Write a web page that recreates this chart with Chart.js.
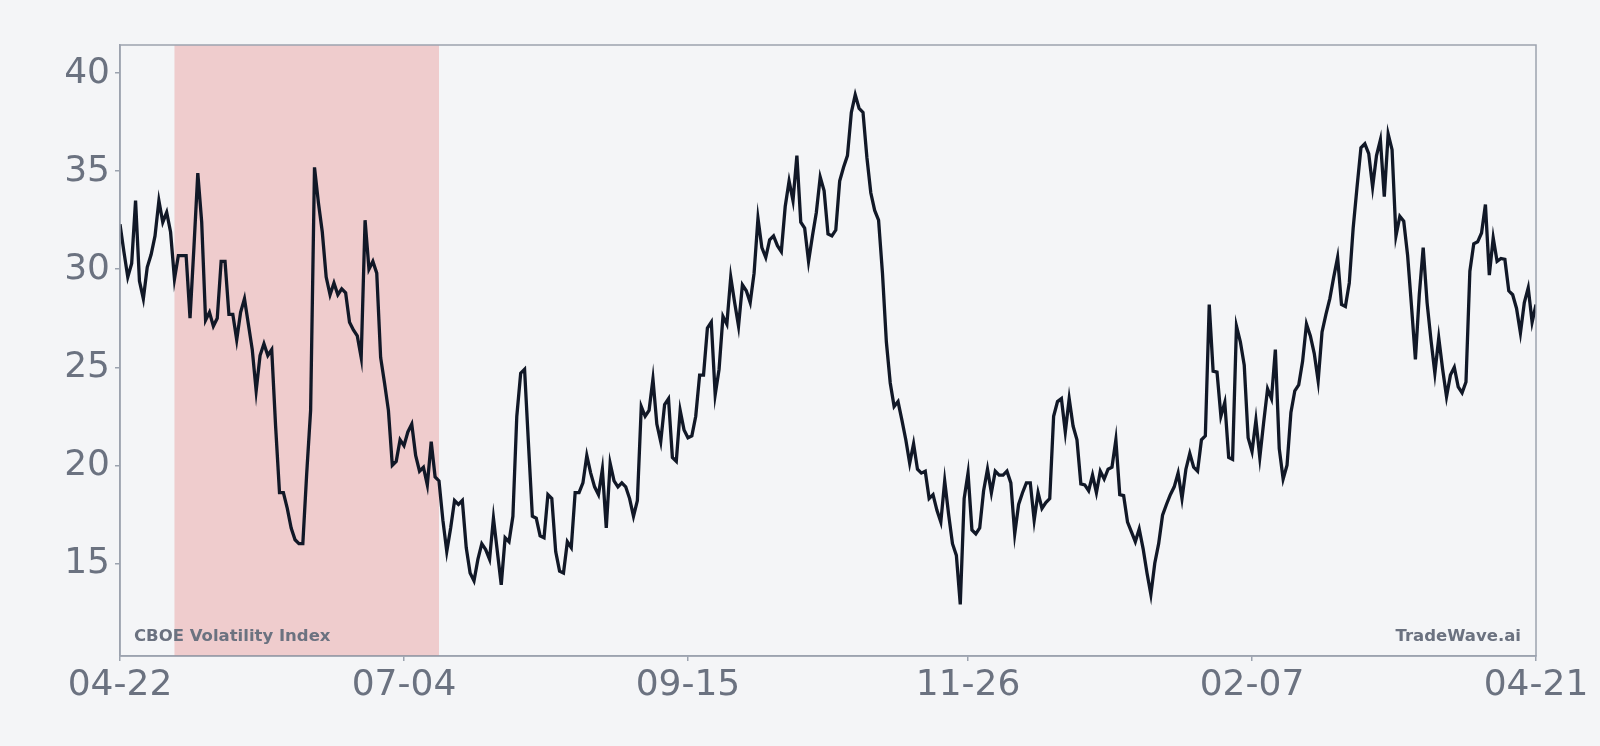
<!DOCTYPE html>
<html><head><meta charset="utf-8">
<script src="https://cdn.jsdelivr.net/npm/chart.js@4.4.0/dist/chart.umd.min.js"></script>
<style>html,body{margin:0;padding:0;background:#f4f5f7;}#wrap{width:1600px;height:746px;}</style>
</head><body><div id="wrap"><canvas id="c" width="1600" height="746"></canvas></div>
<script>
// Daily CBOE VIX closes, 04-22 .. 04-21 (365 calendar days)
const vixValues = [
 32.3,30.9,29.6,30.3,33.5,29.4,28.5,30.1,30.75,31.7,
 33.5,32.4,32.9,31.9,29.5,30.7,30.7,30.7,27.5,31.1,
 34.9,32.4,27.4,27.8,27.1,27.5,30.4,30.4,27.7,27.7,
 26.4,27.8,28.5,27.2,25.9,23.8,25.6,26.2,25.6,25.9,
 22.0,18.6,18.6,17.8,16.8,16.2,16.0,16.0,19.6,22.8,
 35.2,33.4,31.9,29.6,28.7,29.3,28.7,29.0,28.8,27.3,
 26.9,26.6,25.5,32.5,30.0,30.4,29.8,25.5,24.2,22.8,
 20.0,20.2,21.3,21.0,21.7,22.1,20.5,19.7,19.9,19.0,
 21.2,19.4,19.2,17.2,15.6,16.8,18.2,18.0,18.2,15.8,
 14.5,14.1,15.2,16.0,15.7,15.2,17.3,15.6,13.9,16.3,
 16.1,17.4,22.5,24.7,24.9,21.1,17.4,17.3,16.4,16.3,
 18.5,18.3,15.6,14.6,14.5,16.1,15.8,18.6,18.6,19.1,
 20.5,19.6,18.9,18.5,19.8,16.8,20.1,19.2,18.9,19.1,
 18.9,18.3,17.4,18.2,23.0,22.5,22.8,24.4,22.1,21.2,
 23.1,23.4,20.4,20.2,22.8,21.8,21.4,21.5,22.5,24.6,
 24.6,27.0,27.3,23.6,24.9,27.6,27.2,29.6,28.3,27.1,
 29.2,28.9,28.3,29.8,32.6,31.1,30.6,31.5,31.7,31.2,
 30.9,33.2,34.5,33.5,35.8,32.4,32.1,30.4,31.7,32.9,
 34.7,34.0,31.8,31.7,32.0,34.5,35.2,35.8,38.0,38.9,
 38.2,38.0,35.7,33.9,33.0,32.5,29.8,26.3,24.2,23.0,
 23.25,22.3,21.3,20.1,21.1,19.8,19.6,19.7,18.3,18.5,
 17.7,17.1,19.2,17.5,16.0,15.4,12.9,18.3,19.6,16.7,
 16.5,16.8,18.7,19.8,18.6,19.7,19.5,19.5,19.7,19.1,
 16.5,18.0,18.6,19.1,19.1,17.2,18.6,17.8,18.1,18.3,
 22.5,23.25,23.4,21.7,23.4,22.0,21.3,19.05,19.0,18.7,
 19.5,18.6,19.7,19.3,19.8,19.9,21.3,18.5,18.45,17.1,
 16.6,16.1,16.75,15.75,14.5,13.4,15.0,16.0,17.45,18.0,
 18.5,18.9,19.6,18.3,19.8,20.6,19.9,19.7,21.3,21.5,
 28.2,24.8,24.75,22.5,23.2,20.4,20.3,27.1,26.3,25.1,
 21.4,20.7,22.3,20.4,22.2,23.9,23.4,25.9,20.85,19.3,
 20.0,22.7,23.8,24.1,25.3,27.2,26.6,25.7,24.3,26.8,
 27.7,28.5,29.6,30.6,28.2,28.1,29.3,32.1,34.2,36.2,
 36.4,35.9,34.2,35.8,36.6,33.7,36.9,36.1,31.7,32.7,
 32.45,30.7,28.1,25.4,28.7,31.1,28.3,26.4,24.7,26.5,
 24.9,23.5,24.6,25.0,24.0,23.7,24.25,29.9,31.3,31.4,
 31.85,33.3,29.7,31.6,30.4,30.55,30.5,28.9,28.7,28.0,
 26.75,28.3,29.05,27.3,28.2
];
const tickIndex = [0, 73, 146, 218, 291, 364];
const tickLabels = ['04-22', '07-04', '09-15', '11-26', '02-07', '04-21'];
const yTicks = [15, 20, 25, 30, 35, 40];
const yRange = [10.27, 41.44];
const shadeRange = [14, 82];
const seriesLabel = 'CBOE Volatility Index';
const brandLabel = 'TradeWave.ai';

const GRAY = '#6b7280', BORDER = '#9ca3af', LINE = '#111827';

const overlay = {
  id: 'overlay',
  beforeDatasetsDraw(chart) {
    const {ctx, chartArea: a, scales: {x}} = chart;
    const x0 = x.getPixelForValue(shadeRange[0]);
    const x1 = x.getPixelForValue(shadeRange[1]);
    ctx.save();
    ctx.fillStyle = 'rgba(220,38,38,0.2)';
    ctx.fillRect(x0, a.top, x1 - x0, a.bottom - a.top);
    ctx.restore();
  },
  afterDraw(chart) {
    const {ctx, chartArea: a} = chart;
    ctx.save();
    ctx.strokeStyle = BORDER;
    ctx.lineWidth = 1.5;
    ctx.strokeRect(a.left, a.top, a.right - a.left, a.bottom - a.top);
    ctx.fillStyle = GRAY;
    ctx.font = 'bold 16.5px "DejaVu Sans"';
    ctx.textBaseline = 'alphabetic';
    ctx.textAlign = 'left';
    ctx.fillText(seriesLabel, a.left + 14, a.bottom - 15);
    ctx.textAlign = 'right';
    ctx.fillText(brandLabel, a.right - 15, a.bottom - 15);
    ctx.restore();
  }
};

new Chart(document.getElementById('c'), {
  type: 'line',
  data: {
    datasets: [{
      label: seriesLabel,
      data: vixValues.map((v, i) => ({x: i, y: v})),
      borderColor: LINE,
      borderWidth: 3.3,
      pointRadius: 0,
      tension: 0,
      fill: false
    }]
  },
  options: {
    responsive: false,
    devicePixelRatio: 1,
    animation: false,
    layout: {padding: {top: 45, right: 64, left: 0, bottom: 0}},
    plugins: {legend: {display: false}, tooltip: {enabled: false}},
    scales: {
      x: {
        type: 'linear',
        min: 0, max: 364,
        afterBuildTicks(s) { s.ticks = tickIndex.map(v => ({value: v})); },
        afterFit(s) { s.height = 90; },
        ticks: {
          autoSkip: false, maxRotation: 0, padding: 3,
          color: GRAY,
          font: {family: 'DejaVu Sans', size: 36},
          callback: (v) => tickLabels[tickIndex.indexOf(v)]
        },
        grid: {display: true, drawOnChartArea: false, drawTicks: true, tickLength: 5, color: BORDER, lineWidth: 1.5},
        border: {display: true, color: BORDER, width: 1.5}
      },
      y: {
        type: 'linear',
        min: yRange[0], max: yRange[1],
        afterBuildTicks(s) { s.ticks = yTicks.map(v => ({value: v})); },
        afterFit(s) { s.width = 120; },
        ticks: {
          padding: 5,
          color: GRAY,
          font: {family: 'DejaVu Sans', size: 36},
          callback: (v) => String(v)
        },
        grid: {display: true, drawOnChartArea: false, drawTicks: true, tickLength: 5, color: BORDER, lineWidth: 1.5},
        border: {display: true, color: BORDER, width: 1.5}
      }
    }
  },
  plugins: [overlay]
});
</script>
</body></html>
